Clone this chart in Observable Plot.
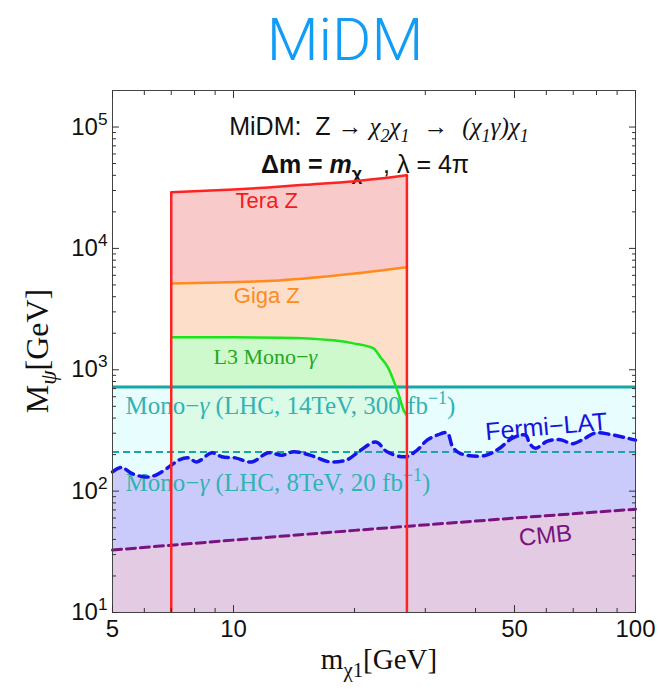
<!DOCTYPE html>
<html><head><meta charset="utf-8">
<script src="https://cdn.jsdelivr.net/npm/d3@7"></script>
<script src="https://cdn.jsdelivr.net/npm/@observablehq/plot@0.6"></script>
<style>body{margin:0;background:#fff}svg{display:block}</style>
</head><body><div id="chart"></div>
<script>
// ---------- data ----------
const xTicksMajor = [5, 10, 50, 100];
const xTicksMinor = [6, 7, 8, 9, 20, 30, 40, 60, 70, 80, 90];
const yTicksMajor = [10, 100, 1000, 10000, 100000];
const yTicksMinor = [20,30,40,50,60,70,80,90, 200,300,400,500,600,700,800,900,
  2000,3000,4000,5000,6000,7000,8000,9000, 20000,30000,40000,50000,60000,70000,80000,90000];

const teraX = [7, 10, 12.2, 15, 20, 23.2, 27];
const teraY = [29000, 30600, 31800, 33400, 35800, 37600, 40000];
const gigaX = [7, 13, 20, 27];
const gigaY = [5150, 5450, 6200, 7000];
const l3X = [7, 10, 13.1, 17.7, 19.9, 22.3, 23.2, 24.2, 25, 25.7, 26.5, 27];
const l3Y = [1850, 1850, 1840, 1750, 1650, 1500, 1270, 1050, 820, 640, 465, 420];
const lhc14 = 720;
const lhc8 = 210;
const fermiX = [5, 5.27, 5.58, 6.03, 6.39, 6.96, 7.30, 7.73, 8.10, 8.83, 9.35, 10.1, 11.1, 12.2, 13.2,
  14.1, 15.5, 17.4, 19.2, 20.7, 22.6, 24.1, 26.8, 28.6, 30.3, 32.1, 34.0, 35.1, 36.7, 42.1,
  45.6, 49.4, 53.3, 54.5, 56.4, 60.4, 65.1, 69.7, 74.2, 79.5, 86.2, 93.9, 100];
const fermiY = [144, 157, 140, 131, 135, 161, 180, 188, 174, 207, 192, 188, 174, 207, 198,
  211, 198, 174, 182, 217, 254, 211, 192, 217, 263, 289, 302, 231, 204, 196,
  222, 273, 289, 248, 226, 258, 265, 246, 268, 302, 294, 277, 263];
const cmbX = [5, 10, 20, 50, 100];
const cmbY = [32.7, 39.5, 47.5, 60, 71];
const xRange = [5, 100];
const yFloor = 10;

// ---------- tables ----------
const zip = (xs, ys) => xs.map((x, i) => ({x, y: ys[i]}));
const tera = zip(teraX, teraY);
const teraSides = [tera[0], tera[tera.length - 1]];
const giga = zip(gigaX, gigaY);
const l3 = zip(l3X, l3Y);
const fermi = zip(fermiX, fermiY);
const cmb = zip(cmbX, cmbY);
const lhcBand = xRange.map(x => ({x, y: lhc14}));

const sans = "'Liberation Sans', Arial, Helvetica, sans-serif";
const serif = "'Liberation Serif', 'Times New Roman', Times, serif";

const T = {
  h1: "MiDM:  Z → χ2χ1  →  (χ1γ)χ1",
  h2: "Δm = mχ   , λ = 4π",
  l3: "L3 Mono−γ",
  m14: "Mono−γ (LHC, 14TeV, 300 fb−1)",
  m8: "Mono−γ (LHC, 8TeV, 20 fb−1)",
  xt: "mχ1[GeV]",
  yt: "Mψ[GeV]"
};
const S = {i: 1, f: serif};
const rich = {
  [T.h1]: {size: 25, parts: [["MiDM:  Z → "], ["χ", S], ["2", {...S, sub: 1}], ["χ", S], ["1", {...S, sub: 1}],
    ["  →  "], ["(χ", S], ["1", {...S, sub: 1}], ["γ)χ", S], ["1", {...S, sub: 1}]]},
  [T.h2]: {size: 25, parts: [["Δm = ", {b: 1}], ["m", {b: 1, i: 1}], ["χ", {b: 1, sub: 1}], ["   , λ = 4π"]]},
  [T.l3]: {size: 22, parts: [["L3 Mono−"], ["γ", {i: 1}]]},
  [T.m14]: {size: 25, parts: [["Mono−"], ["γ", {i: 1}], [" (LHC, 14TeV, 300 fb"], ["−1", {sup: 1}], [")"]]},
  [T.m8]: {size: 25, parts: [["Mono−"], ["γ", {i: 1}], [" (LHC, 8TeV, 20 fb"], ["−1", {sup: 1}], [")"]]},
  [T.xt]: {size: 29, parts: [["m"], ["χ1", {sub: 1}], ["[GeV]"]]},
  [T.yt]: {size: 32, parts: [["M"], ["ψ", {sub: 1, i: 1}], ["[GeV]"]]}
};

const tickCol = "#333";
const plot = Plot.plot({
  width: 658, height: 691,
  marginLeft: 112, marginRight: 23, marginTop: 90, marginBottom: 79,
  style: {fontFamily: sans, background: "#fff", overflow: "visible"},
  x: {type: "log", domain: xRange},
  y: {type: "log", domain: [10, 2e5]},
  marks: [
    Plot.areaY(lhcBand, {x: "x", y1: yFloor, y2: "y", fill: "#e8fefe"}),
    Plot.areaY(tera, {x: "x", y1: yFloor, y2: "y", fill: "#f9caca", curve: "monotone-x"}),
    Plot.areaY(giga, {x: "x", y1: yFloor, y2: "y", fill: "#fddfc9", curve: "monotone-x"}),
    Plot.areaY(l3, {x: "x", y1: yFloor, y2: "y", fill: "#cdf9cd", curve: "monotone-x"}),
    Plot.areaY(lhcBand, {x: "x", y1: yFloor, y2: "y", fill: "#e8fefe", fillOpacity: 0.55}),
    Plot.areaY(fermi, {x: "x", y1: yFloor, y2: "y", fill: "#cbcbfb", curve: "catmull-rom"}),
    Plot.areaY(cmb, {x: "x", y1: yFloor, y2: "y", fill: "#e3cbe3"}),

    // labels
    Plot.text([T.h1], {frameAnchor: "top", dx: 5, dy: 27, fontSize: 25, fill: "#111", text: d => d}),
    Plot.text([T.h2], {frameAnchor: "top", dx: -9, dy: 65, fontSize: 25, fill: "#111", text: d => d}),
    Plot.text(["Tera Z"], {x: 12.1, y: 24800, text: d => d, fill: "#f21c1c", fontSize: 22}),
    Plot.text(["Giga Z"], {x: 12.1, y: 4030, text: d => d, fill: "#ff8a1e", fontSize: 22}),
    Plot.text([T.l3], {x: 12.0, y: 1270, text: d => d, fill: "#21a821", fontSize: 22, fontFamily: serif}),
    Plot.text([T.m14], {x: 5.39, y: 500, text: d => d, fill: "#31b3b3", fontSize: 25, fontFamily: serif, textAnchor: "start"}),
    Plot.text([T.m8], {x: 5.39, y: 116, text: d => d, fill: "#31b3b3", fontSize: 25, fontFamily: serif, textAnchor: "start"}),
    Plot.text(["Fermi−LAT"], {x: 60, y: 338, text: d => d, fill: "#1515e0", fontSize: 25, rotate: -5}),
    Plot.text(["CMB"], {x: 59.7, y: 43, text: d => d, fill: "#7a137f", fontSize: 24, rotate: -6}),

    // lines
    Plot.ruleY([lhc14], {stroke: "#17a6a6", strokeWidth: 3}),
    Plot.ruleY([lhc8], {stroke: "#17a6a6", strokeWidth: 2, strokeDasharray: "7,4"}),
    Plot.line(giga, {x: "x", y: "y", stroke: "#ff8a1e", strokeWidth: 2.5, curve: "monotone-x"}),
    Plot.line(l3, {x: "x", y: "y", stroke: "#19e619", strokeWidth: 2.5, curve: "monotone-x"}),
    Plot.line(fermi, {x: "x", y: "y", stroke: "#1515e8", strokeWidth: 3.5, strokeDasharray: "9,6", curve: "catmull-rom"}),
    Plot.line(cmb, {x: "x", y: "y", stroke: "#7a137f", strokeWidth: 3, strokeDasharray: "9,5"}),
    Plot.line(tera, {x: "x", y: "y", stroke: "#ff2222", strokeWidth: 2.5, curve: "monotone-x"}),
    Plot.ruleX(teraSides, {x: "x", y1: yFloor, y2: "y", stroke: "#ff2222", strokeWidth: 2.5}),

    Plot.frame({stroke: "#444", strokeWidth: 1}),

    // ticks (inward)
    Plot.axisX(xTicksMajor, {anchor: "bottom", tickSize: -7, fill: "none", stroke: tickCol, label: null}),
    Plot.axisX(xTicksMinor, {anchor: "bottom", tickSize: -4, fill: "none", stroke: tickCol, label: null}),
    Plot.axisX(xTicksMajor, {anchor: "top", tickSize: -7, fill: "none", stroke: tickCol, label: null}),
    Plot.axisX(xTicksMinor, {anchor: "top", tickSize: -4, fill: "none", stroke: tickCol, label: null}),
    Plot.axisY(yTicksMajor, {anchor: "left", tickSize: -7, fill: "none", stroke: tickCol, label: null}),
    Plot.axisY(yTicksMinor, {anchor: "left", tickSize: -4, fill: "none", stroke: tickCol, label: null}),
    Plot.axisY(yTicksMajor, {anchor: "right", tickSize: -7, fill: "none", stroke: tickCol, label: null}),
    Plot.axisY(yTicksMinor, {anchor: "right", tickSize: -4, fill: "none", stroke: tickCol, label: null}),
    // tick labels
    Plot.text(xTicksMajor, {x: d => d, frameAnchor: "bottom", dy: 7, lineAnchor: "top", text: d => String(d), fontSize: 24, fill: "#111"}),
    Plot.text(yTicksMajor, {y: d => d, frameAnchor: "left", dx: -5, textAnchor: "end", text: d => "10^" + Math.round(Math.log10(d)), fontSize: 24, fill: "#111"}),

    // titles
    Plot.text(["MiDM"], {frameAnchor: "top", dx: -29, dy: -31, lineAnchor: "bottom", text: d => d, fontSize: 60, fontWeight: 300, fontFamily: "Roboto, 'Open Sans', sans-serif", fill: "#119cf6"}),
    Plot.text([T.xt], {frameAnchor: "bottom", dx: 5, dy: 56, text: d => d, fontSize: 29, fontFamily: serif, fill: "#111"}),
    Plot.text([T.yt], {frameAnchor: "left", dx: -72, dy: 0, rotate: -90, text: d => d, fontSize: 32, fontFamily: serif, fill: "#111"})
  ]
});

const NS = "http://www.w3.org/2000/svg";
function build(el, {size, parts}) {
  el.textContent = "";
  el.style.whiteSpace = "pre";
  let cur = 0;
  for (const [s, o = {}] of parts) {
    const ts = document.createElementNS(NS, "tspan");
    ts.textContent = s;
    if (o.i) ts.setAttribute("font-style", "italic");
    if (o.b) ts.setAttribute("font-weight", "bold");
    if (o.f) ts.setAttribute("font-family", o.f);
    const target = o.sub ? size * 0.28 : o.sup ? -size * 0.42 : 0;
    if (o.sub || o.sup) ts.setAttribute("font-size", size * 0.72);
    if (target !== cur) { ts.setAttribute("dy", target - cur); cur = target; }
    el.appendChild(ts);
  }
}
let yTitleEl = null;
plot.querySelectorAll("text").forEach(el => {
  const t = el.textContent;
  if (t === T.yt) yTitleEl = el;
  if (rich[t]) { build(el, rich[t]); return; }
  const m = t.match(/^10\^(\d+)$/);
  if (m) build(el, {size: 24, parts: [["10"], [m[1], {sup: 1}]]});
});
document.getElementById("chart").appendChild(plot);
// keep the rotated y title centred on its anchor (x 40, y 351)
if (yTitleEl) {
  const svgBox = plot.getBoundingClientRect();
  const r = yTitleEl.getBoundingClientRect();
  const cx = r.left + r.width / 2 - svgBox.left, cy = r.top + r.height / 2 - svgBox.top;
  const tr = yTitleEl.getAttribute("transform") || "";
  yTitleEl.setAttribute("transform", `translate(${40 - cx},${351 - cy}) ` + tr);
}
</script>
</body></html>
